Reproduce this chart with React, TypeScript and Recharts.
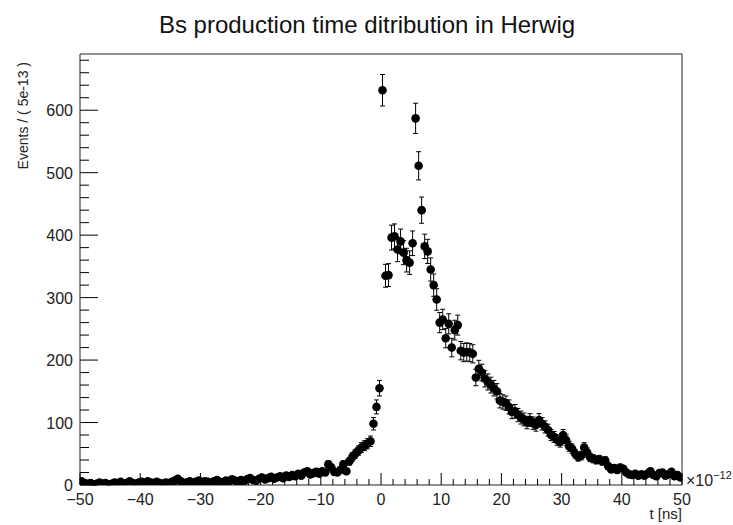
import { ScatterChart, Scatter, XAxis, YAxis, ErrorBar, ReferenceArea } from "recharts";

// histogram: 200 bins of 0.5e-12 from -50e-12 to 50e-12
const T_MIN = -50;
const BIN_WIDTH = 0.5;

// bins -50 .. 0
const NEG_COUNTS = [
  6, 3, 2, 3, 1, 2, 4, 2, 3, 1,
  2, 4, 2, 5, 2, 3, 6, 3, 2, 4,
  5, 3, 6, 4, 3, 5, 3, 2, 4, 3,
  5, 7, 10, 6, 3, 4, 6, 3, 5, 7,
  4, 6, 5, 3, 6, 8, 5, 4, 7, 6,
  9, 7, 5, 8, 6, 9, 11, 8, 7, 10,
  12, 9, 11, 13, 10, 12, 14, 11, 15, 13,
  16, 14, 18, 15, 20, 22, 17, 19, 21, 18,
  22, 20, 33, 28, 21, 20, 24, 33, 22, 38,
  45, 50, 55, 60, 63, 66, 70, 98, 125, 155,
];

// bins 0 .. 50
const POS_COUNTS = [
  632, 335, 336, 396, 398, 377, 390, 372, 360, 356,
  387, 587, 511, 440, 382, 374, 345, 320, 297, 260,
  265, 235, 258, 220, 248, 256, 215, 212, 213, 212,
  210, 172, 186, 180, 170, 165, 160, 155, 150, 135,
  133, 131, 125, 117, 118, 112, 108, 105, 100, 104,
  99, 96, 104, 98, 93, 88, 80, 77, 72, 69,
  80, 72, 62, 58, 50, 45, 47, 60, 52, 44,
  42, 40, 41, 38, 39, 30, 25, 27, 24, 28,
  26, 20, 17, 16, 18, 15, 17, 15, 18, 22,
  16, 14, 19, 20, 15, 17, 21, 14, 16, 12,
];

const X_MAJOR = [-50, -40, -30, -20, -10, 0, 10, 20, 30, 40, 50];
const Y_MAJOR = [0, 100, 200, 300, 400, 500, 600];
const X_MINOR_STEP = 2;
const Y_MINOR_STEP = 20;
const Y_MAX = 690;

const counts = [...NEG_COUNTS, ...POS_COUNTS];
const data = counts.map((n, i) => ({
  t: T_MIN + BIN_WIDTH * (i + 0.5),
  n,
  err: Math.sqrt(n),
}));

const xTicks: number[] = [];
for (let v = X_MAJOR[0]; v <= X_MAJOR[X_MAJOR.length - 1]; v += X_MINOR_STEP) xTicks.push(v);
const yTicks: number[] = [];
for (let v = 0; v <= Y_MAX; v += Y_MINOR_STEP) yTicks.push(v);

const FONT = "'Liberation Sans', Arial, Helvetica, sans-serif";

const fmt = (v: number) => (v < 0 ? "\u2212" + Math.abs(v) : String(v));

function XTick(props: any) {
  const { x, y, payload } = props;
  const v = payload.value;
  const major = X_MAJOR.includes(v);
  return (
    <g>
      <line x1={x} x2={x} y1={y} y2={y - (major ? 12 : 6)} stroke="#000" strokeWidth={1} />
      {major && (
        <text x={x} y={y + 20} textAnchor="middle" fontSize={16} fontFamily={FONT} fill="#222">
          {fmt(v)}
        </text>
      )}
    </g>
  );
}

function YTick(props: any) {
  const { x, y, payload } = props;
  const v = payload.value;
  const major = Y_MAJOR.includes(v);
  return (
    <g>
      <line x1={x} x2={x + (major ? 18 : 9)} y1={y} y2={y} stroke="#000" strokeWidth={1} />
      {major && (
        <text x={x - 7} y={y + 6} textAnchor="end" fontSize={16} fontFamily={FONT} fill="#222">
          {v}
        </text>
      )}
    </g>
  );
}

const Dot = (props: any) => <circle cx={props.cx} cy={props.cy} r={4.3} fill="#000" />;

export default function App() {
  return (
    <div style={{ position: "absolute", left: 0, top: 0, width: 733, height: 525, background: "#fff" }}>
      <ScatterChart width={733} height={525} margin={{ top: 54, right: 51, bottom: 0, left: 0 }}>
        <XAxis
          type="number"
          dataKey="t"
          domain={[-50, 50]}
          ticks={xTicks}
          interval={0}
          height={40}
          tickSize={0}
          tickMargin={0}
          tickLine={false}
          axisLine={false}
          allowDataOverflow
          tick={(p: any) => <XTick {...p} />}
        />
        <YAxis
          type="number"
          dataKey="n"
          domain={[0, Y_MAX]}
          ticks={yTicks}
          interval={0}
          width={80}
          tickSize={0}
          tickMargin={0}
          tickLine={false}
          axisLine={false}
          allowDataOverflow
          tick={(p: any) => <YTick {...p} />}
        />
        <ReferenceArea x1={-50} x2={50} y1={0} y2={Y_MAX} fill="none" stroke="#222" strokeWidth={1} />
        <Scatter data={data} shape={Dot} isAnimationActive={false}>
          <ErrorBar dataKey="err" direction="y" width={2.5} stroke="#000" strokeWidth={1} isAnimationActive={false} />
        </Scatter>
      </ScatterChart>
      <svg width={733} height={525} style={{ position: "absolute", left: 0, top: 0, pointerEvents: "none" }}>
        <text x={367} y={33} textAnchor="middle" fontSize={24} fontFamily={FONT} fill="#111">
          Bs production time ditribution in Herwig
        </text>
        <text
          transform="translate(28,62) rotate(-90)"
          textAnchor="end"
          fontSize={14}
          fontFamily={FONT}
          fill="#222"
        >
          Events / ( 5e-13 )
        </text>
        <text x={682} y={519} textAnchor="end" fontSize={15} fontFamily={FONT} fill="#222">
          t [ns]
        </text>
        <text x={686} y={486} fontSize={16} fontFamily={FONT} fill="#222">
          ×10
          <tspan dy={-7} fontSize={11}>
            −12
          </tspan>
        </text>
      </svg>
    </div>
  );
}
